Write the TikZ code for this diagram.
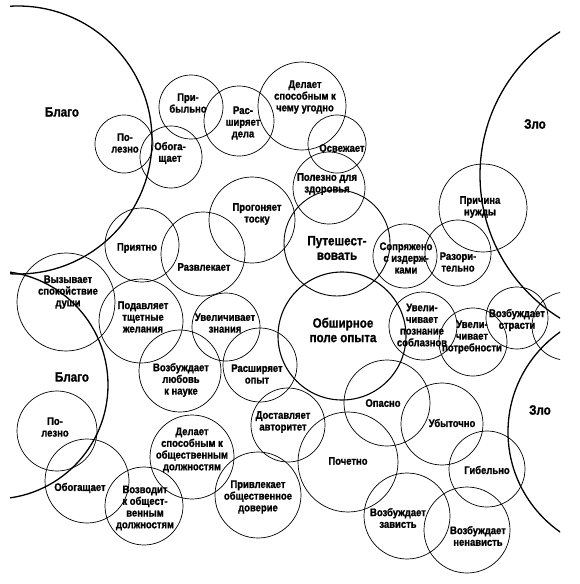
\documentclass[tikz,border=0pt]{standalone}
\usepackage{fontspec}
\newfontfamily\bubfont{Liberation Sans}[FakeStretch=0.86,FakeBold=1.2]
\usepackage{tikz}

\begin{document}
\begin{tikzpicture}[x=1pt,y=-1pt,
  bub/.style={line width=0.7pt},
  big/.style={line width=1.3pt},
  lbl/.style={align=center,inner sep=0pt,font=\bubfont\bfseries\fontsize{11}{11.7}\selectfont},
  biglbl/.style={align=center,inner sep=0pt,font=\bubfont\bfseries\fontsize{13.5}{14.5}\selectfont}]
\useasboundingbox (0,0) rectangle (579,584);
\clip (10,0) rectangle (560,584);
% good and evil
\draw[big] (18,140) circle (134pt);
\draw[big] (-6,385) circle (114pt);
\draw[big] (648,175) circle (168pt);
\draw[big] (630,432) circle (122pt);
\node[biglbl] (blago1) at (62,112) {Благо};
\node[biglbl] (blago2) at (72,377) {Благо};
\node[biglbl] (zlo1) at (535,124) {Зло};
\node[biglbl] (zlo2) at (540,410) {Зло};
% upper part
\draw[bub] (124,144) circle (29pt);
\node[lbl] (polezno1) at (125,143) {По-\\лезно};
\draw[bub] (171,157) circle (31pt);
\node[lbl] (obogashch1) at (170,153) {Обога-\\щает};
\draw[bub] (191,107) circle (32pt);
\node[lbl] (pribylno) at (188,103) {При-\\быльно};
\draw[bub] (239,121) circle (35pt);
\node[lbl] (rasshdela) at (243,123) {Рас-\\ширяет\\дела};
\draw[bub] (302,106) circle (44pt);
\node[lbl] (sposobnym1) at (305,97) {Делает\\способным к\\чему угодно};
\draw[bub] (337,144) circle (29pt);
\node[lbl] (osvezhaet) at (342,148) {Освежает};
\draw[bub] (329,188) circle (36pt);
\node[lbl] (zdorovye) at (327,184) {Полезно для\\здоровья};
\draw[bub] (252,220) circle (43pt);
\node[lbl] (toska) at (257,214) {Прогоняет\\тоску};
\draw[bub] (142,245) circle (37pt);
\node[lbl] (priyatno) at (137,248) {Приятно};
\draw[bub] (203,254) circle (42pt);
\node[lbl] (razvlekaet) at (204,267) {Развлекает};
\draw[line width=0.9pt] (337,243) circle (53pt);
\node[biglbl] (puteshest) at (337,248) {Путешест-\\вовать};
\draw[bub] (405,256) circle (32pt);
\node[lbl] (izderzhki) at (406,258) {Сопряжено\\с издерж-\\ками};
\draw[bub] (458,253) circle (33pt);
\node[lbl] (razoritelno) at (458,262) {Разори-\\тельно};
\draw[bub] (483,208) circle (44pt);
\node[lbl] (nuzhda) at (480,207) {Причина\\нужды};
% middle part
\draw[bub] (66,302) circle (49pt);
\node[lbl] (spokoystvie) at (68,292) {Вызывает\\спокойствие\\души};
\draw[bub] (141,321) circle (42pt);
\node[lbl] (zhelaniya) at (143,317) {Подавляет\\тщетные\\желания};
\draw[bub] (226,327) circle (34pt);
\node[lbl] (znaniya) at (225,323) {Увеличивает\\знания};
\draw[line width=1.1pt] (342,336) circle (64pt);
\node[biglbl] (opyt) at (343,330) {Обширное\\поле опыта};
\draw[bub] (423,326) circle (34pt);
\node[lbl] (soblazny) at (422,325) {Увели-\\чивает\\познание\\соблазнов};
\draw[bub] (473,342) circle (34pt);
\node[lbl] (potrebnosti) at (472,337) {Увели-\\чивает\\потребности};
\draw[bub] (517,318) circle (31pt);
\node[lbl] (strasti) at (517,320) {Возбуждает\\страсти};
\draw[bub] (566,326) circle (34pt);
\draw[bub] (180,371) circle (41pt);
\node[lbl] (nauka) at (181,380) {Возбуждает\\любовь\\к науке};
\draw[bub] (260,365) circle (37pt);
\node[lbl] (rasshopyt) at (257,374) {Расширяет\\опыт};
% lower part
\draw[bub] (57,431) circle (40pt);
\node[lbl] (polezno2) at (55,427) {По-\\лезно};
\draw[bub] (87,481) circle (42pt);
\node[lbl] (obogashch2) at (80,488) {Обогащает};
\draw[bub] (288,425) circle (37pt);
\node[lbl] (avtoritet) at (283,422) {Доставляет\\авторитет};
\draw[bub] (387,403) circle (43pt);
\node[lbl] (opasno) at (383,403) {Опасно};
\draw[bub] (442,424) circle (41pt);
\node[lbl] (ubytochno) at (452,423) {Убыточно};
\draw[bub] (192,457) circle (42pt);
\node[lbl] (sposobnym2) at (192,450) {Делает\\способным к\\общественным\\должностям};
\draw[bub] (348,462) circle (50pt);
\node[lbl] (pochetno) at (348,461) {Почетно};
\draw[bub] (487,469) circle (38pt);
\node[lbl] (gibelno) at (487,470) {Гибельно};
\draw[bub] (144,506) circle (39pt);
\node[lbl] (vozvodit) at (145,508) {Возводит\\к общест-\\венным\\должностям};
\draw[bub] (258,495) circle (43pt);
\node[lbl] (doverie) at (258,497) {Привлекает\\общественное\\доверие};
\draw[bub] (407,516) circle (43pt);
\node[lbl] (zavist) at (398,518) {Возбуждает\\зависть};
\draw[bub] (467,530) circle (43pt);
\node[lbl] (nenavist) at (478,536) {Возбуждает\\ненависть};
\end{tikzpicture}
\end{document}
